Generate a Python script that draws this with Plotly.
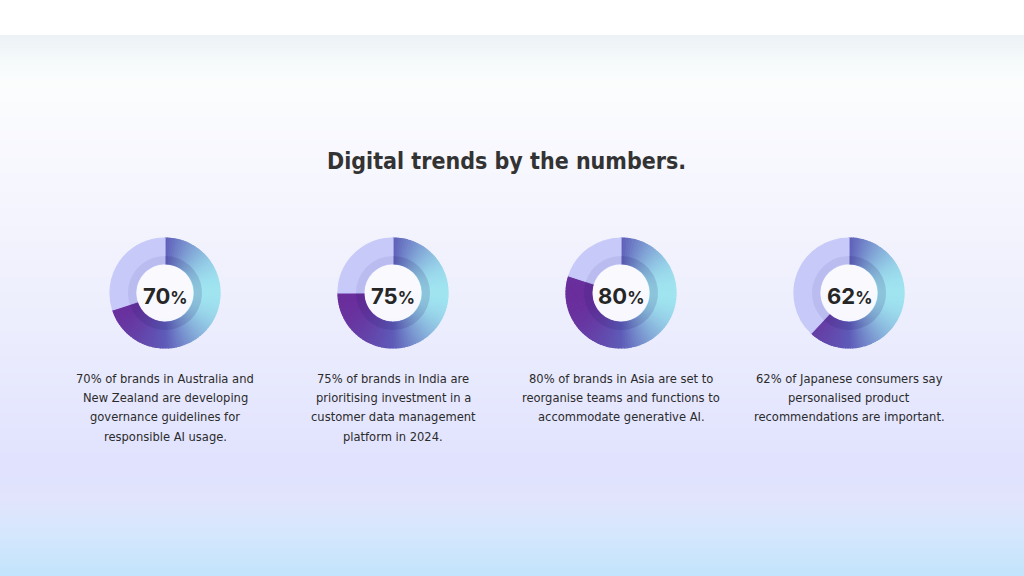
import math
import plotly.graph_objects as go

W, H = 1024, 576

# ---- data ----
values = [70, 75, 80, 62]
pct_labels = ["70", "75", "80", "62"]
descriptions = [
    ["70% of brands in Australia and", "New Zealand are developing",
     "governance guidelines for", "responsible AI usage."],
    ["75% of brands in India are", "prioritising investment in a",
     "customer data management", "platform in 2024."],
    ["80% of brands in Asia are set to", "reorganise teams and functions to",
     "accommodate generative AI."],
    ["62% of Japanese consumers say", "personalised product",
     "recommendations are important."],
]
title_text = "Digital trends by the numbers."

# ---- layout constants ----
centers_x = [165, 393, 621, 849]
center_y = 293
R_OUT = 55
R_BAND = 37
R_IN = 29
N_SEG = 90

TEXT_FONT = "'DejaVu Sans Condensed', 'DejaVu Sans', sans-serif"


def hex2rgb(h):
    h = h.lstrip("#")
    return tuple(int(h[i:i + 2], 16) for i in (0, 2, 4))


grad_stops = [(0.0, hex2rgb("#6a2e9c")), (0.5, hex2rgb("#5e5cb8")), (1.0, hex2rgb("#a0e4f0"))]


def grad_color(t):
    for (t0, c0), (t1, c1) in zip(grad_stops[:-1], grad_stops[1:]):
        if t <= t1:
            f = (t - t0) / (t1 - t0)
            c = [round(a + (b - a) * f) for a, b in zip(c0, c1)]
            return "rgb(%d,%d,%d)" % tuple(c)
    return "rgb(%d,%d,%d)" % grad_stops[-1][1]


fig = go.Figure()

# background gradient (heatmap over full page)
bg_stops = [
    (0, "#ffffff"), (34, "#ffffff"), (35, "#ecf2f5"), (55, "#f3f9fa"),
    (80, "#fbfdfd"), (150, "#f8f8fe"), (300, "#eeeffd"), (470, "#e0e2fe"),
    (500, "#e1e4fc"), (530, "#d6e7fd"), (576, "#c2e4fc"),
]
ys = list(range(0, H + 1))
fig.add_trace(go.Heatmap(
    x=[0, W], y=ys, z=[[y, y] for y in ys],
    colorscale=[[s / H, c] for s, c in bg_stops],
    zmin=0, zmax=H, showscale=False, hoverinfo="skip", zsmooth="best",
))


def dom(cx, cy, r):
    return dict(x=[(cx - r) / W, (cx + r) / W], y=[1 - (cy + r) / H, 1 - (cy - r) / H])


for i, v in enumerate(values):
    cx = centers_x[i]
    seg_vals = [v / N_SEG] * N_SEG + [100 - v]
    cols = []
    for k in range(N_SEG):
        theta = (k + 0.5) / N_SEG * v / 100 * 2 * math.pi
        t = (1 + math.sin(theta)) / 2
        cols.append(grad_color(t))
    cols.append("#c7c9f9")
    fig.add_trace(go.Pie(
        values=seg_vals, sort=False, direction="clockwise", rotation=0,
        hole=R_IN / R_OUT, domain=dom(cx, center_y, R_OUT),
        marker=dict(colors=cols, line=dict(color=cols, width=1.2)),
        textinfo="none", hoverinfo="skip", showlegend=False,
    ))
    # inner shadow band
    fig.add_trace(go.Pie(
        values=[v, 100 - v], sort=False, direction="clockwise", rotation=0,
        hole=R_IN / R_BAND, domain=dom(cx, center_y, R_BAND),
        marker=dict(colors=["rgba(40,30,110,0.16)", "rgba(60,70,150,0.09)"], line=dict(width=0)),
        textinfo="none", hoverinfo="skip", showlegend=False,
    ))

shapes = []
annotations = []
for i, v in enumerate(values):
    cx = centers_x[i]
    r = R_IN - 0.5
    shapes.append(dict(type="circle", xref="paper", yref="paper",
                       x0=(cx - r) / W, x1=(cx + r) / W,
                       y0=1 - (center_y + r) / H, y1=1 - (center_y - r) / H,
                       fillcolor="rgba(255,255,255,0.6)", line=dict(width=0), layer="above"))
    annotations.append(dict(
        x=cx / W, y=1 - 296 / H, xref="paper", yref="paper", showarrow=False,
        text="<b>%s</b><b><span style='font-size:17px'>%%</span></b>" % pct_labels[i],
        font=dict(family="Inter, Roboto, sans-serif", size=22, color="#262626"),
        xanchor="center", yanchor="middle",
    ))
    for j, line in enumerate(descriptions[i]):
        annotations.append(dict(
            x=cx / W, y=1 - (378 + j * 19.4) / H, xref="paper", yref="paper", showarrow=False,
            text=line, font=dict(family=TEXT_FONT, size=12.8, color="#2b2b2b"),
            xanchor="center", yanchor="middle",
        ))

annotations.append(dict(
    x=506 / W, y=1 - 161 / H, xref="paper", yref="paper", showarrow=False,
    text="<b>%s</b>" % title_text,
    font=dict(family=TEXT_FONT, size=23, color="#333333"),
    xanchor="center", yanchor="middle",
))

fig.update_layout(
    width=W, height=H, margin=dict(l=0, r=0, t=0, b=0),
    paper_bgcolor="#ffffff", plot_bgcolor="#ffffff",
    xaxis=dict(range=[0, W], visible=False, fixedrange=True),
    yaxis=dict(range=[H, 0], visible=False, fixedrange=True),
    shapes=shapes, annotations=annotations, showlegend=False,
)

fig.write_html("out.html", config={"displayModeBar": False})
